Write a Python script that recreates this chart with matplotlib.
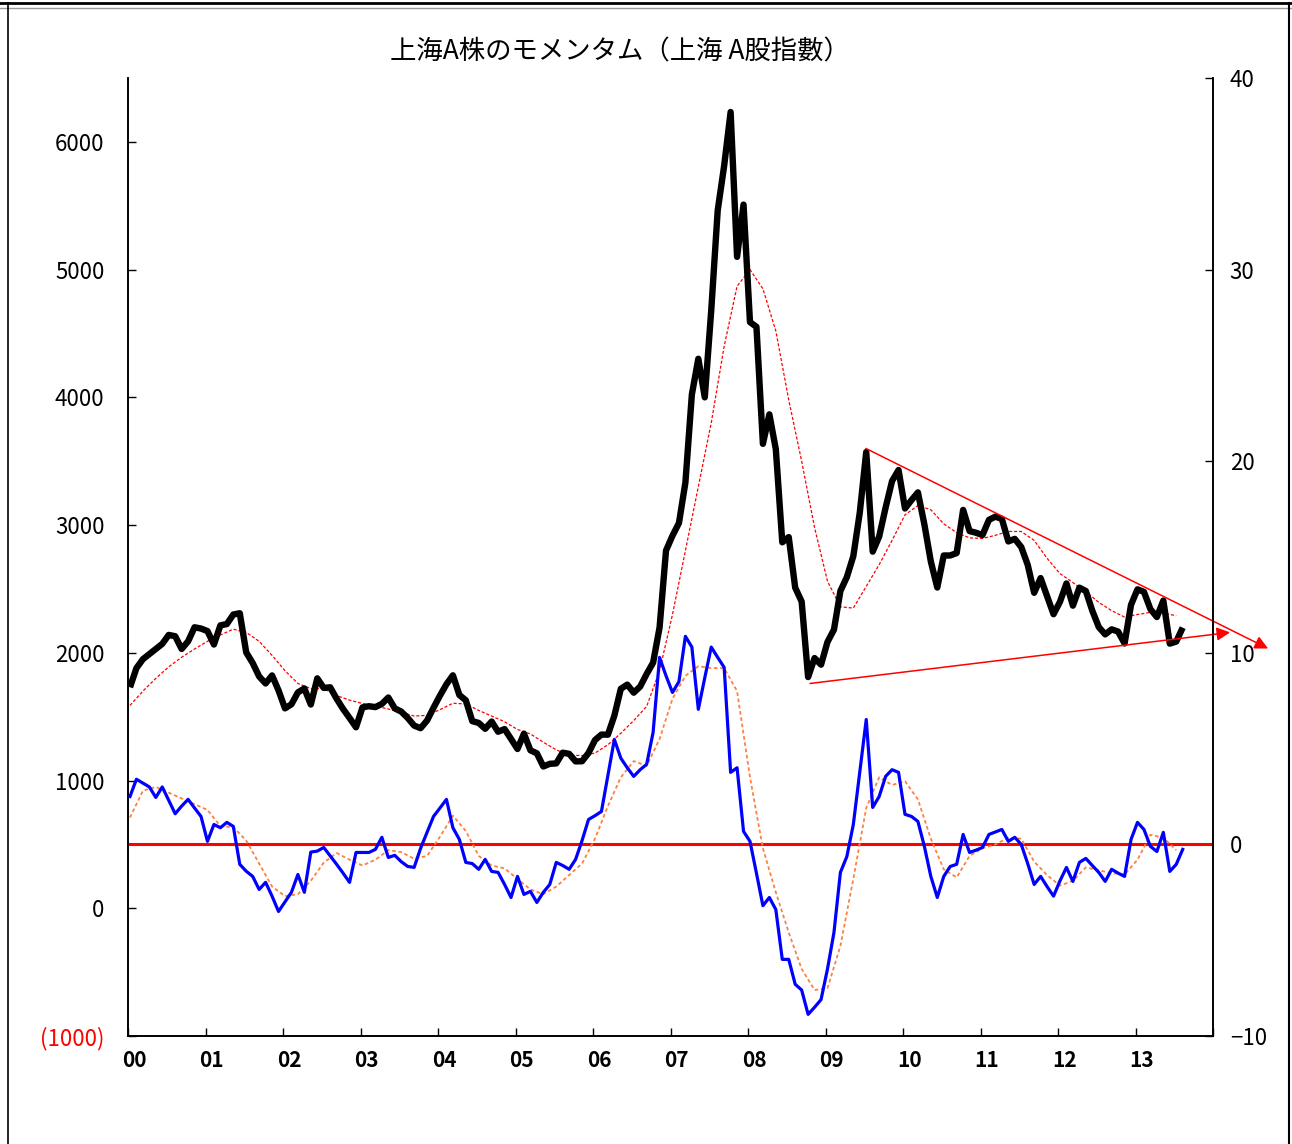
import numpy as np
import matplotlib
matplotlib.use('Agg')
import matplotlib.pyplot as plt
from matplotlib.lines import Line2D

plt.rcParams['font.family'] = ['Noto Sans CJK JP', 'DejaVu Sans']

# 上海A股指數 月末値 (2000/01 - 2013/08)
index_vals = [
    1730, 1880, 1950, 1990, 2030, 2070, 2140, 2130, 2030, 2090, 2200, 2190,
    2170, 2065, 2215, 2225, 2300, 2310, 2003, 1920, 1815, 1760, 1823, 1706,
    1565, 1597, 1690, 1721, 1595, 1800, 1725, 1730, 1640, 1560, 1490, 1417,
    1573, 1582, 1575, 1600, 1650, 1565, 1540, 1490, 1430, 1410, 1470, 1570,
    1665, 1754, 1824, 1670, 1628, 1465, 1451, 1405, 1462, 1382, 1403, 1326,
    1247, 1367, 1237, 1213, 1110, 1131, 1134, 1218, 1209, 1150, 1151, 1216,
    1317, 1360, 1359, 1508, 1718, 1751, 1688, 1736, 1834, 1923, 2198, 2801,
    2917, 3016, 3333, 4022, 4302, 4000, 4681, 5463, 5813, 6234, 5100, 5509,
    4589, 4552, 3636, 3867, 3594, 2865, 2906, 2510, 2401, 1810, 1959, 1907,
    2085, 2181, 2484, 2593, 2757, 3098, 3572, 2792, 2910, 3137, 3345, 3431,
    3130, 3195, 3256, 3006, 2715, 2511, 2762, 2762, 2781, 3119, 2953, 2940,
    2922, 3041, 3066, 3048, 2872, 2892, 2828, 2689, 2470, 2585, 2443, 2302,
    2400, 2543, 2369, 2510, 2484, 2330, 2202, 2144, 2184, 2166, 2073, 2376,
    2497, 2477, 2342, 2280, 2409, 2072, 2088, 2197,
]

# 指数の移動平均（2ヶ月おきに読み取り）
index_ma = [
    1588, 1700, 1800, 1890, 1965, 2030, 2090, 2140, 2185, 2160,
    2090, 1980, 1860, 1760, 1720, 1721, 1665, 1630, 1603, 1582,
    1560, 1534, 1505, 1510, 1555, 1605, 1600, 1549, 1505, 1460,
    1400, 1365, 1300, 1240, 1200, 1195, 1215, 1280, 1370, 1470,
    1580, 1860, 2300, 2800, 3300, 3800, 4400, 4870, 5000, 4850,
    4520, 3980, 3500, 2980, 2560, 2360, 2350, 2520, 2690, 2880,
    3080, 3153, 3120, 3010, 2940, 2900, 2895, 2920, 2950, 2950,
    2880, 2740, 2620, 2550, 2480, 2395, 2330, 2280, 2300, 2316,
    2312, 2290,
]

# モメンタム（右軸）
momentum = [
    2.5, 3.4, 3.2, 3.0, 2.45, 3.0, 2.3, 1.6, 2.0, 2.35, 1.9, 1.46,
    0.16, 1.04, 0.87, 1.15, 0.94, -1.04, -1.4, -1.67, -2.35, -1.98, -2.7, -3.5,
    -3.0, -2.5, -1.57, -2.5, -0.4, -0.35, -0.16, -0.6, -1.04, -1.5, -1.98, -0.42,
    -0.42, -0.42, -0.26, 0.37, -0.68, -0.57, -0.9, -1.15, -1.2, -0.2, 0.63, 1.46,
    1.9, 2.35, 0.87, 0.26, -0.94, -1.0, -1.3, -0.78, -1.41, -1.46, -2.09, -2.77,
    -1.67, -2.61, -2.45, -3.03, -2.5, -2.09, -0.94, -1.1, -1.3, -0.78, 0.2, 1.3,
    1.5, 1.72, 3.6, 5.48, 4.5, 4.0, 3.55, 3.9, 4.18, 5.85, 9.76, 8.8,
    7.93, 8.5, 10.86, 10.3, 7.05, 8.7, 10.3, 9.76, 9.24, 3.76, 4.0, 0.68,
    0.16, -1.5, -3.2, -2.77, -3.4, -6.0, -6.0, -7.3, -7.6, -8.87, -8.5, -8.1,
    -6.5, -4.6, -1.46, -0.63, 1.04, 3.8, 6.52, 1.93, 2.5, 3.55, 3.9, 3.76,
    1.57, 1.46, 1.2, -0.1, -1.67, -2.77, -1.67, -1.15, -1.04, 0.52, -0.42, -0.3,
    -0.16, 0.52, 0.65, 0.78, 0.16, 0.37, 0.0, -1.0, -2.09, -1.67, -2.2, -2.7,
    -1.9, -1.2, -1.93, -0.94, -0.73, -1.1, -1.46, -1.93, -1.3, -1.5, -1.67, 0.26,
    1.15, 0.78, -0.1, -0.37, 0.63, -1.41, -1.04, -0.26,
]

# モメンタムの移動平均（2ヶ月おき）
momentum_ma = [
    1.4, 2.8, 3.0, 2.7, 2.4, 2.1, 1.8, 0.95, 0.9, 0.2,
    -1.0, -2.2, -2.7, -2.6, -1.9, -0.95, -0.45, -0.8, -1.1, -0.8,
    -0.3, -0.4, -0.75, -0.6, 0.4, 1.5, 0.7, -0.6, -1.1, -1.25,
    -1.8, -2.35, -2.6, -2.2, -1.6, -1.0, 0.3, 2.0, 3.5, 4.35,
    4.1, 5.5, 7.6, 8.8, 9.3, 9.2, 9.2, 8.0, 3.5, -0.2,
    -2.5, -4.6, -6.5, -7.6, -7.5, -5.3, -1.8, 1.9, 3.5, 3.1,
    3.3, 2.35, 0.3, -1.3, -1.72, -0.6, -0.2, 0.0, 0.35, 0.3,
    -0.9, -1.6, -2.15, -1.9, -1.2, -1.35, -1.5, -1.57, -0.8, 0.5,
    0.35, -0.3,
]

year_labels = ['00', '01', '02', '03', '04', '05', '06', '07', '08', '09',
               '10', '11', '12', '13']
left_ticks = [-1000, 0, 1000, 2000, 3000, 4000, 5000, 6000]
left_labels = ['(1000)', '0', '1000', '2000', '3000', '4000', '5000', '6000']
right_ticks = [-10, 0, 10, 20, 30, 40]
right_labels = ['\u221210', '0', '10', '20', '30', '40']

# 三角保ち合いのトレンドライン（年, 指数）
upper_start, upper_end = (2009.52, 3600), (2014.71, 2034)
lower_start, lower_end = (2008.80, 1760), (2014.22, 2160)

n = len(index_vals)
t = 2000 + (np.arange(n) + 0.3) / 12
t_ma = 2000 + (np.arange(len(index_ma)) * 2 + 0.3) / 12
t_mma = 2000 + (np.arange(len(momentum_ma)) * 2 + 0.3) / 12

fig = plt.figure(figsize=(12.92, 11.44), dpi=100)
ax = fig.add_axes([0.0991, 0.0944, 0.8398, 0.8374])
ax2 = ax.twinx()

ax.plot(t_ma, index_ma, color='red', lw=0.9, ls=(0, (2.5, 1.5)), zorder=3)
ax.plot(t, index_vals, color='black', lw=4.6, solid_joinstyle='round',
        solid_capstyle='butt', zorder=4)

ax2.axhline(0, color='red', lw=2.2, zorder=2)
ax2.plot(t_mma, momentum_ma, color='#FF8040', lw=1.3, ls=(0, (2, 1.5)), zorder=3)
ax2.plot(t, momentum, color='#0000FF', lw=2.3, zorder=4)

# トレンドライン
for s, e in [(upper_start, upper_end), (lower_start, lower_end)]:
    ax.annotate('', xy=e, xytext=s,
                arrowprops=dict(arrowstyle='-|>', color='red', lw=1.1,
                                mutation_scale=20, shrinkA=0, shrinkB=0),
                annotation_clip=False, zorder=5)

ax.set_xlim(2000, 2014)
ax.set_ylim(-1000, 6500)
ax2.set_ylim(-10, 40)

ax.set_xticks(range(2000, 2015))
ax.set_xticklabels([])
ax.set_xticks([y + 0.08 for y in range(2000, 2014)], minor=True)
ax.set_xticklabels(year_labels, minor=True, fontsize=15, fontweight='bold')
ax.tick_params(axis='x', which='major', direction='in', length=6, width=1)
ax.tick_params(axis='x', which='minor', length=0, pad=10)

ax.set_yticks(left_ticks)
ax.set_yticklabels(left_labels, fontsize=16)
ax.get_yticklabels()[0].set_color('red')
ax.tick_params(axis='y', direction='in', length=6, width=1, pad=17)

ax2.set_yticks(right_ticks)
ax2.set_yticklabels(right_labels, fontsize=16)
ax2.tick_params(axis='y', direction='in', length=6, width=1, pad=12)

for a in (ax, ax2):
    a.spines['top'].set_visible(False)
    for sp in ('left', 'right', 'bottom'):
        a.spines[sp].set_linewidth(1.2)
        a.spines[sp].set_color('black')

fig.text(0.48, 0.955, '上海A株のモメンタム（上海 A股指數）', ha='center', va='center',
         fontsize=19)

# 外枠
fig.add_artist(Line2D([0, 1], [0.997, 0.997], transform=fig.transFigure, color='black', lw=2))
fig.add_artist(Line2D([0, 1], [0.993, 0.993], transform=fig.transFigure, color='#999999', lw=1))
fig.add_artist(Line2D([0.0065, 0.0065], [0, 0.997], transform=fig.transFigure, color='black', lw=1.2))
fig.add_artist(Line2D([0.998, 0.998], [0, 0.997], transform=fig.transFigure, color='black', lw=1.5))

fig.savefig('out.png', dpi=100)
